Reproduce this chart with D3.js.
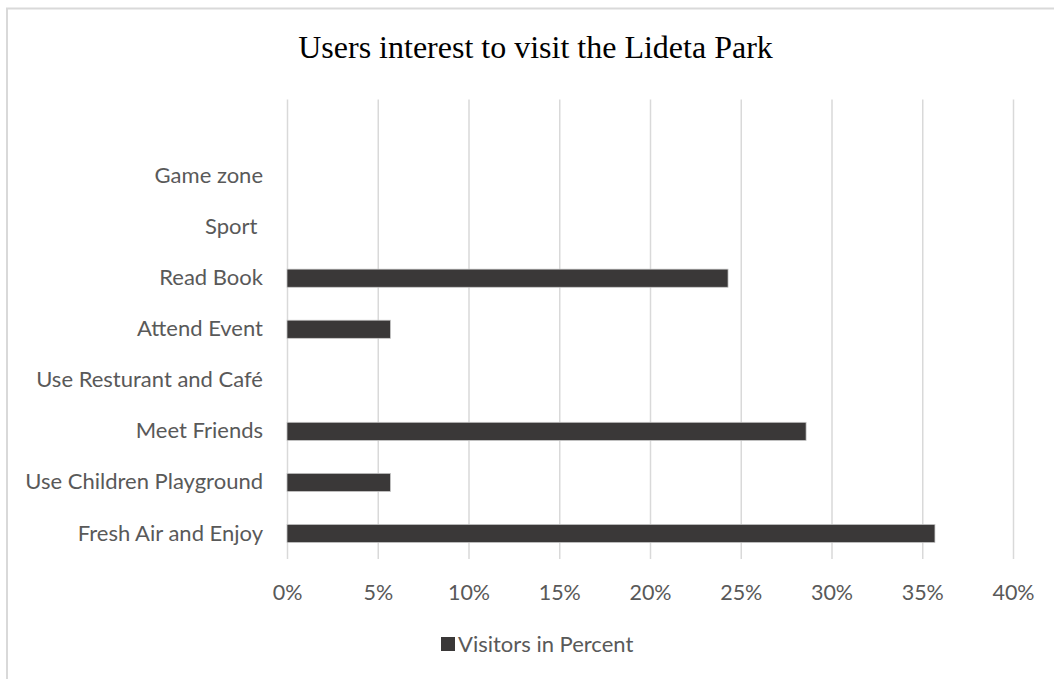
<!DOCTYPE html>
<html>
<head>
<meta charset="utf-8">
<script src="https://cdn.jsdelivr.net/npm/d3@7"></script>
<style>
  body { margin: 0; background: #fff; }
  svg text { white-space: pre; }
</style>
</head>
<body>
<div id="chart"></div>
<script>
// categories from top to bottom (first slot is blank in the original chart)
var categories = ["", "Game zone", "Sport ", "Read Book", "Attend Event",
                  "Use Resturant and Café", "Meet Friends",
                  "Use Children Playground", "Fresh Air and Enjoy"]
var values = [null, 0, 0, 0.243, 0.057, 0, 0.286, 0.057, 0.357]
var xTicks = [0, 0.05, 0.10, 0.15, 0.20, 0.25, 0.30, 0.35, 0.40]
var seriesName = "Visitors in Percent"
var title = "Users interest to visit the Lideta Park"

var width = 1054, height = 679
var margin = { top: 99.5, right: 41, bottom: 120, left: 287 }
var w = width - margin.left - margin.right,
    h = height - margin.top - margin.bottom

var labelFont = "Lato, 'Open Sans', sans-serif",
    textColor = "#595959",
    gridColor = "#d9d9d9",
    barColor = "#3a3838"

var svg = d3.select("#chart").append("svg")
    .attr("width", width)
    .attr("height", height)

// chart border (top and left edges visible)
svg.append("path")
    .attr("d", "M7,679 V8.5 H1054")
    .style("fill", "none")
    .style("stroke", gridColor)
    .style("stroke-width", 2)

svg.append("text")
    .attr("x", 535.5)
    .attr("y", 58)
    .attr("text-anchor", "middle")
    .style("font-family", "'Liberation Serif', 'Times New Roman', serif")
    .style("font-size", "32px")
    .style("fill", "#000")
    .text(title)

var g = svg.append("g")
    .attr("transform", "translate(" + margin.left + "," + margin.top + ")")

var x = d3.scaleLinear().domain([0, 0.40]).range([0, w])
var y = d3.scaleBand().domain(categories).range([0, h]).paddingInner(0.645).paddingOuter(0.3225)

// gridlines + tick labels
var xAxis = g.append("g")
    .attr("transform", "translate(0," + h + ")")
    .call(d3.axisBottom(x).tickValues(xTicks).tickFormat(d3.format(".0%"))
      .tickSize(-h).tickPadding(26))
xAxis.select(".domain").remove()
xAxis.selectAll("line")
    .style("stroke", gridColor)
    .style("stroke-width", 1.5)
xAxis.selectAll("text")
    .style("font-family", labelFont)
    .style("font-size", "21.5px")
    .style("fill", textColor)

var yAxis = g.append("g")
    .call(d3.axisLeft(y).tickSize(0).tickPadding(24))
yAxis.select(".domain").remove()
yAxis.selectAll("text")
    .style("font-family", labelFont)
    .style("font-size", "22px")
    .style("fill", textColor)

var data = categories.map(function(c, i) { return { name: c, value: values[i] } })
    .filter(function(d) { return d.value })

g.selectAll("rect.bar")
    .data(data)
  .enter().append("rect")
    .attr("class", "bar")
    .attr("x", x(0))
    .attr("y", function(d) { return y(d.name) })
    .attr("width", function(d) { return x(d.value) - x(0) })
    .attr("height", y.bandwidth())
    .style("fill", barColor)
    .style("stroke", "#c8c8c8")
    .style("stroke-width", 0.75)

// legend
var legend = svg.append("g").attr("transform", "translate(441,637)")
legend.append("rect")
    .attr("width", 14)
    .attr("height", 14)
    .style("fill", barColor)
legend.append("text")
    .attr("x", 17)
    .attr("y", 7)
    .attr("dy", "0.35em")
    .style("font-family", labelFont)
    .style("font-size", "22px")
    .style("fill", textColor)
    .text(seriesName)
</script>
</body>
</html>
